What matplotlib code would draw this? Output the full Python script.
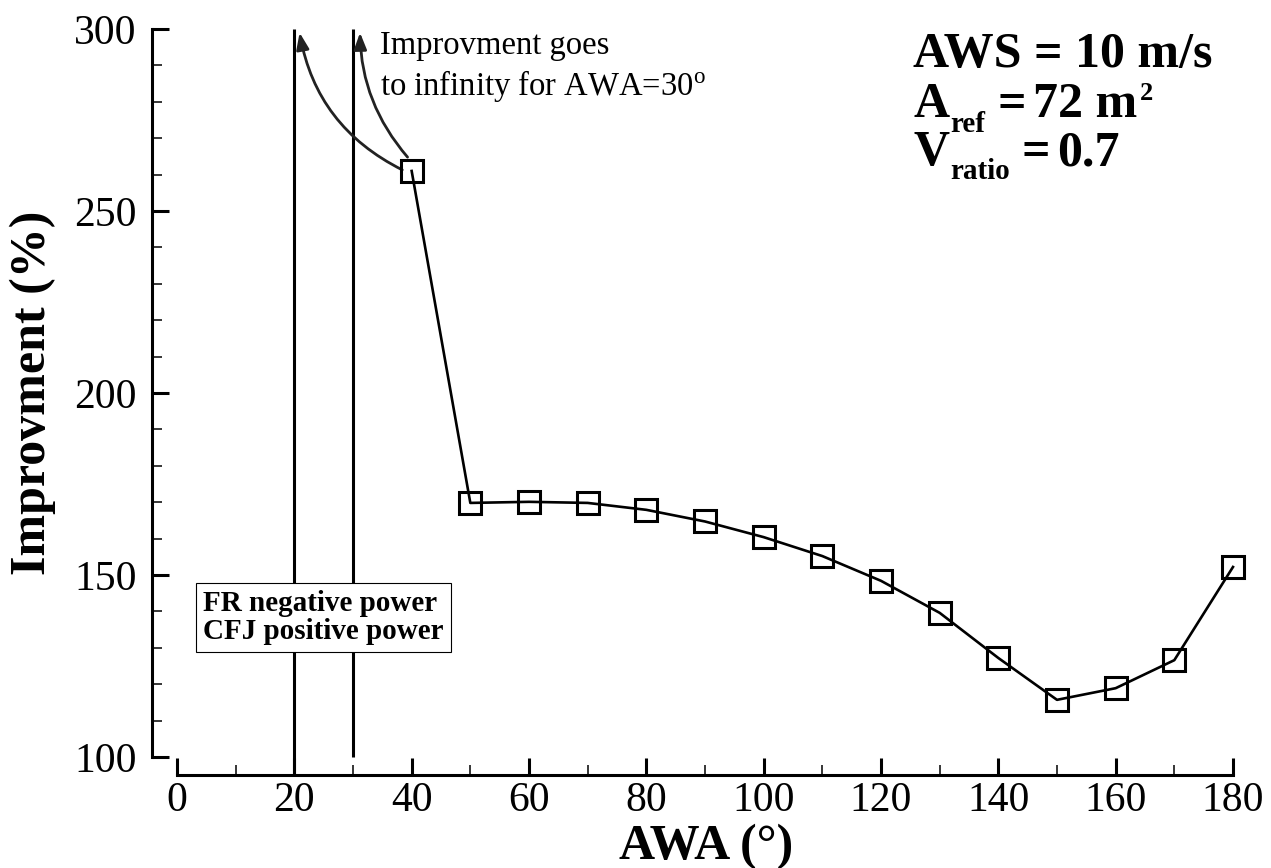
import numpy as np
import matplotlib.pyplot as plt

plt.rcParams['font.family'] = 'Liberation Serif'
plt.rcParams['mathtext.fontset'] = 'custom'
plt.rcParams['mathtext.rm'] = 'Liberation Serif'
plt.rcParams['mathtext.bf'] = 'Liberation Serif:bold'
plt.rcParams['mathtext.it'] = 'Liberation Serif:italic'

# data
awa = [40, 50, 60, 70, 80, 90, 100, 110, 120, 130, 140, 150, 160, 170, 180]
improvment = [261.0, 169.8, 170.1, 169.8, 167.9, 164.7, 160.4, 155.2, 148.4,
              139.6, 127.2, 115.7, 118.9, 126.6, 152.2]

xticks = [0, 20, 40, 60, 80, 100, 120, 140, 160, 180]
yticks = [100, 150, 200, 250, 300]

# vertical marker lines (AWA = 20 and 30)
vline_x = [20, 30]
vline_bottom = [95.05, 100]
vline_top = 300

# arrows: (start, end, curvature) in data units
arrows = [((38.4, 261.3), (20.9, 299.0), -0.25),
          ((39.3, 264.8), (31.2, 299.0), -0.18)]

W, H = 1271, 868
fig = plt.figure(figsize=(W / 100, H / 100), dpi=100)
ax = fig.add_axes([152 / W, (H - 775) / H, (1250 - 152) / W, (775 - 25) / H])
ax.set_xlim(-4.26, 182.9)
ax.set_ylim(95.05, 301.1)

ax.vlines(vline_x, vline_bottom, vline_top, color='black', lw=2.2, zorder=2)

ax.plot(awa, improvment, color='black', lw=1.9, marker='s', ms=16,
        mfc='none', mec='black', mew=2.2, zorder=4, clip_on=False)

for start, end, rad in arrows:
    ax.annotate('', xy=end, xytext=start,
                arrowprops=dict(arrowstyle='-|>,head_length=1.0,head_width=0.38',
                                connectionstyle='arc3,rad=%s' % rad,
                                color='#222222', lw=2.0, shrinkA=0, shrinkB=0),
                zorder=3)

# va='baseline' on multi-line text anchors the last line
ax.text(34.6, 281.87, 'Improvment goes\nto infinity for AWA=30$^{\\mathrm{o}}$',
        fontsize=23.5, ha='left', va='baseline', linespacing=1.25)

ax.text(4.4, 138.3, 'FR negative power\nCFJ positive power', fontsize=21,
        fontweight='bold', ha='left', va='center', linespacing=1.03, zorder=5,
        bbox=dict(boxstyle='square,pad=0.25', fc='white', ec='black', lw=0.8))

# parameter block, top right (pixel positions of each piece)
def ptext(px, py, s, size):
    fig.text(px / W, 1 - py / H, s, fontsize=size, fontweight='bold',
             va='baseline', ha='left')

ptext(913, 67, 'AWS = 10 m/s', 36)
ptext(913, 117, 'A', 36)
ptext(950, 132, 'ref', 21)
ptext(997, 117, '=', 36)
ptext(1033, 117, '72 m', 36)
ptext(1140, 100, '2', 19)
ptext(913, 165, 'V', 36)
ptext(950, 179, 'ratio', 21)
ptext(1022, 165, '=', 36)
ptext(1057, 165, '0.7', 36)

for side in ['top', 'right']:
    ax.spines[side].set_visible(False)
ax.spines['left'].set_bounds(100, 300)
ax.spines['bottom'].set_bounds(0, 180)
ax.spines['left'].set_linewidth(2.2)
ax.spines['bottom'].set_linewidth(2.2)

ax.set_xticks(xticks)
ax.set_yticks(yticks)
ax.set_xticks(np.arange(0, 181, 10), minor=True)
ax.set_yticks(np.arange(100, 301, 10), minor=True)
ax.tick_params(which='major', direction='in', length=12.5, width=2.2, labelsize=30)
ax.tick_params(which='minor', direction='in', length=7.5, width=1.1)
ax.tick_params(axis='y', which='major', pad=11)
ax.tick_params(axis='x', which='major', pad=5)

ax.set_xlabel('AWA (°)', fontsize=36, fontweight='bold')
ax.xaxis.label.set_va('baseline')
ax.xaxis.set_label_coords(0.5046, -(859 - 775) / 750)
ax.set_ylabel('Improvment (%)', fontsize=36, fontweight='bold')
ax.yaxis.label.set_va('center')
ax.yaxis.set_label_coords(-0.1084, 0.509)

fig.savefig('out.png', dpi=100)
